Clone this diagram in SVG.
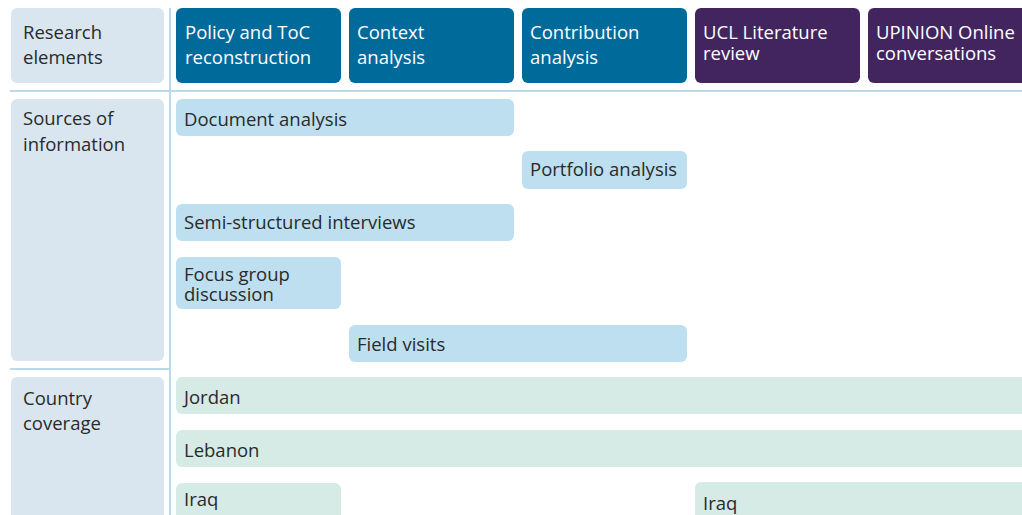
<svg xmlns="http://www.w3.org/2000/svg" width="1022" height="515" viewBox="0 0 1022 515">
<style>
text{font-family:"Open Sans","Noto Sans","DejaVu Sans",sans-serif;font-size:18.5px;fill:#2a2a2a}
.w{fill:#ffffff}
.lab{fill:#d9e6f0}
.blue{fill:#006a9b}
.purple{fill:#42255e}
.src{fill:#bddfef}
.cty{fill:#d6ebe6}
.sep{stroke:#bcd9ea;stroke-width:2;fill:none}
</style>
<rect width="1022" height="515" fill="#ffffff"/>
<g id="connectors">
<line class="sep" x1="170" y1="8" x2="170" y2="515"/>
<line class="sep" x1="10" y1="91" x2="1022" y2="91"/>
<line class="sep" x1="10" y1="369" x2="170" y2="369"/>
</g>
<g id="label-research"><rect class="lab" x="11" y="8" width="153" height="75" rx="6"/><text x="23" y="39">Research</text><text x="23" y="64">elements</text></g>
<g id="label-sources"><rect class="lab" x="11" y="99" width="153" height="262" rx="6"/><text x="23" y="125">Sources of</text><text x="23" y="151">information</text></g>
<g id="label-country"><rect class="lab" x="11" y="377" width="153" height="150" rx="6"/><text x="23" y="405">Country</text><text x="23" y="430">coverage</text></g>
<g id="el-policy"><rect class="blue" x="176" y="8" width="165" height="75" rx="6"/><text class="w" x="185" y="39">Policy and ToC</text><text class="w" x="185" y="64">reconstruction</text></g>
<g id="el-context"><rect class="blue" x="349" y="8" width="165" height="75" rx="6"/><text class="w" x="357" y="39">Context</text><text class="w" x="357" y="64">analysis</text></g>
<g id="el-contribution"><rect class="blue" x="522" y="8" width="165" height="75" rx="6"/><text class="w" x="530" y="39">Contribution</text><text class="w" x="530" y="64">analysis</text></g>
<g id="el-ucl"><rect class="purple" x="695" y="8" width="165" height="75" rx="6"/><text class="w" x="703" y="39">UCL Literature</text><text class="w" x="703" y="60">review</text></g>
<g id="el-upinion"><rect class="purple" x="868" y="8" width="170" height="75" rx="6"/><text class="w" x="876" y="39">UPINION Online</text><text class="w" x="876" y="60">conversations</text></g>
<g id="src-document"><rect class="src" x="176" y="99" width="338" height="37" rx="6"/><text x="184" y="126">Document analysis</text></g>
<g id="src-portfolio"><rect class="src" x="522" y="151" width="165" height="38" rx="6"/><text x="530" y="176">Portfolio analysis</text></g>
<g id="src-interviews"><rect class="src" x="176" y="204" width="338" height="37" rx="6"/><text x="184" y="229">Semi-structured interviews</text></g>
<g id="src-focus"><rect class="src" x="176" y="257" width="165" height="52" rx="6"/><text x="184" y="281">Focus group</text><text x="184" y="301">discussion</text></g>
<g id="src-field"><rect class="src" x="349" y="325" width="338" height="37" rx="6"/><text x="357" y="351">Field visits</text></g>
<g id="cty-jordan"><rect class="cty" x="176" y="377" width="860" height="37" rx="6"/><text x="184" y="404">Jordan</text></g>
<g id="cty-lebanon"><rect class="cty" x="176" y="430" width="860" height="37" rx="6"/><text x="184" y="457">Lebanon</text></g>
<g id="cty-iraq1"><rect class="cty" x="176" y="483" width="165" height="50" rx="6"/><text x="184" y="506">Iraq</text></g>
<g id="cty-iraq2"><rect class="cty" x="695" y="482" width="340" height="50" rx="6"/><text x="703" y="510">Iraq</text></g>
</svg>
